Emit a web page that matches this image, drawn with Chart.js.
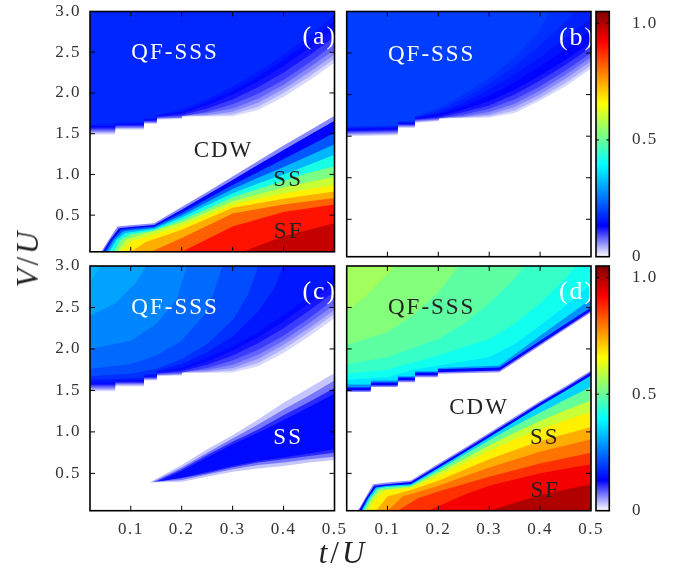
<!DOCTYPE html>
<html>
<head>
<meta charset="utf-8">
<script src="https://cdn.jsdelivr.net/npm/chart.js@4/dist/chart.umd.min.js"></script>
<style>
  html, body { margin: 0; padding: 0; background: #fff; }
  #fig { position: relative; width: 676px; height: 572px; overflow: hidden; background: #fff; }
  #fig canvas { position: absolute; }
  .title { position: absolute; font-family: 'Liberation Serif', serif; font-size: 31px; color: #222;
           letter-spacing: 3px; white-space: nowrap; }
</style>
</head>
<body>
<div id="fig">
  <canvas id="pa" width="350" height="262" style="left:0;top:0"></canvas>
  <canvas id="pb" width="260" height="262" style="left:340px;top:0"></canvas>
  <canvas id="pc" width="350" height="320" style="left:0;top:252px"></canvas>
  <canvas id="pd" width="276" height="320" style="left:340px;top:252px"></canvas>
  <canvas id="cb1" width="86" height="272" style="left:590px;top:0"></canvas>
  <canvas id="cb2" width="86" height="300" style="left:590px;top:252px"></canvas>
  <div class="title" style="left:28px;top:258px;transform:translate(-50%,-50%) rotate(-90deg)"><i>V</i>/<i>U</i></div>
  <div class="title" style="left:343px;top:553px;transform:translate(-50%,-50%)"><i>t</i>/<i>U</i></div>
</div>
<script>
// axis ticks
const tTicks = [0.1, 0.2, 0.3, 0.4, 0.5];
const vTicks = [0.5, 1.0, 1.5, 2.0, 2.5, 3.0];
const barTicks = [0, 0.5, 1.0];

// colour scale: white -> blue -> cyan -> yellow -> red -> dark red
const paletteStops = [0, 0.131, 0.394, 0.656, 0.919, 1.05];
const paletteRGB = [[255, 255, 255], [0, 0, 255], [0, 255, 255], [255, 255, 0], [255, 0, 0], [128, 0, 0]];

// contour lines (t/U, V/U) of the order parameter, one level per line

// (a) QF-SSS region
const aTopLevels = [0.02, 0.04, 0.06, 0.08, 0.1, 0.12, 0.14, 0.155, 0.17];
const aTopLines = [
  [[0.02,1.49],[0.069,1.49],[0.07,1.55],[0.125,1.55],[0.126,1.62],[0.15,1.62],[0.151,1.67],[0.2,1.68],[0.201,1.71],[0.3,1.715],[0.35,1.79],[0.4,1.95],[0.45,2.15],[0.5,2.37]],
  [[0.02,1.505],[0.069,1.505],[0.07,1.56],[0.125,1.56],[0.126,1.63],[0.15,1.63],[0.151,1.68],[0.2,1.69],[0.201,1.715],[0.25,1.72],[0.3,1.74],[0.35,1.83],[0.4,2.0],[0.45,2.2],[0.5,2.42]],
  [[0.02,1.52],[0.069,1.52],[0.07,1.57],[0.125,1.57],[0.126,1.635],[0.15,1.635],[0.151,1.685],[0.2,1.695],[0.201,1.72],[0.25,1.73],[0.3,1.77],[0.35,1.88],[0.4,2.05],[0.45,2.25],[0.5,2.47]],
  [[0.02,1.535],[0.069,1.535],[0.07,1.58],[0.125,1.58],[0.126,1.64],[0.15,1.64],[0.151,1.69],[0.2,1.7],[0.201,1.725],[0.25,1.75],[0.3,1.81],[0.35,1.93],[0.4,2.1],[0.45,2.31],[0.5,2.53]],
  [[0.02,1.55],[0.069,1.55],[0.07,1.59],[0.125,1.59],[0.126,1.65],[0.15,1.65],[0.151,1.7],[0.2,1.715],[0.25,1.77],[0.3,1.86],[0.35,1.99],[0.4,2.16],[0.45,2.37],[0.5,2.6]],
  [[0.02,1.565],[0.069,1.565],[0.07,1.6],[0.125,1.6],[0.126,1.655],[0.15,1.66],[0.151,1.705],[0.2,1.73],[0.25,1.81],[0.3,1.92],[0.35,2.07],[0.4,2.25],[0.45,2.46],[0.5,2.69]],
  [[0.02,1.58],[0.069,1.58],[0.07,1.61],[0.125,1.61],[0.126,1.665],[0.15,1.67],[0.151,1.715],[0.2,1.75],[0.25,1.85],[0.3,1.98],[0.35,2.14],[0.4,2.33],[0.45,2.55],[0.5,2.79]],
  [[0.02,1.595],[0.069,1.595],[0.07,1.62],[0.125,1.625],[0.126,1.675],[0.15,1.68],[0.151,1.72],[0.2,1.77],[0.25,1.89],[0.3,2.03],[0.35,2.2],[0.4,2.41],[0.45,2.63],[0.5,2.88]],
  [[0.02,1.61],[0.07,1.63],[0.125,1.64],[0.126,1.685],[0.15,1.69],[0.151,1.73],[0.2,1.8],[0.25,1.92],[0.3,2.08],[0.35,2.26],[0.4,2.47],[0.45,2.7],[0.5,2.96]]
];

// (a) SS / SF region
const aLowLevels = [0.06, 0.13, 0.22, 0.32, 0.42, 0.52, 0.6, 0.67, 0.74, 0.82, 0.9, 0.98];
const aLowLines = [
  [[0.042,0.05],[0.057,0.2],[0.074,0.36],[0.1,0.375],[0.146,0.4],[0.2,0.6],[0.25,0.785],[0.3,0.975],[0.35,1.165],[0.4,1.355],[0.45,1.535],[0.5,1.72]],
  [[0.045,0.05],[0.06,0.2],[0.077,0.34],[0.1,0.355],[0.146,0.38],[0.2,0.565],[0.25,0.75],[0.3,0.93],[0.35,1.12],[0.4,1.3],[0.45,1.48],[0.5,1.66]],
  [[0.049,0.05],[0.064,0.2],[0.081,0.32],[0.1,0.335],[0.146,0.36],[0.2,0.53],[0.25,0.7],[0.3,0.87],[0.35,1.03],[0.4,1.19],[0.45,1.35],[0.5,1.51]],
  [[0.053,0.05],[0.068,0.2],[0.085,0.3],[0.1,0.315],[0.146,0.345],[0.2,0.5],[0.25,0.66],[0.3,0.82],[0.35,0.96],[0.4,1.09],[0.45,1.23],[0.5,1.37]],
  [[0.058,0.05],[0.073,0.2],[0.09,0.28],[0.146,0.33],[0.2,0.47],[0.25,0.62],[0.3,0.77],[0.35,0.89],[0.4,1.0],[0.45,1.12],[0.5,1.24]],
  [[0.066,0.05],[0.08,0.2],[0.1,0.265],[0.146,0.31],[0.2,0.44],[0.25,0.58],[0.3,0.72],[0.35,0.82],[0.4,0.92],[0.45,1.02],[0.5,1.1]],
  [[0.073,0.05],[0.09,0.2],[0.12,0.26],[0.2,0.41],[0.3,0.67],[0.4,0.84],[0.5,0.97]],
  [[0.08,0.05],[0.1,0.18],[0.14,0.25],[0.2,0.37],[0.3,0.63],[0.4,0.77],[0.5,0.87]],
  [[0.1,0.05],[0.13,0.17],[0.2,0.32],[0.3,0.59],[0.4,0.7],[0.5,0.79]],
  [[0.14,0.05],[0.2,0.22],[0.3,0.52],[0.4,0.63],[0.5,0.71]],
  [[0.2,0.05],[0.3,0.36],[0.4,0.54],[0.5,0.63]],
  [[0.32,0.05],[0.4,0.24],[0.5,0.4]]
];

// (b) QF-SSS region
const bTopLevels = [0.02, 0.04, 0.06, 0.08, 0.1, 0.12, 0.135, 0.15, 0.165, 0.18, 0.195];
const bTopLines = [
  [[0.02,1.5],[0.12,1.51],[0.121,1.6],[0.153,1.6],[0.154,1.66],[0.2,1.68],[0.201,1.71],[0.3,1.725],[0.35,1.78],[0.4,1.93],[0.45,2.1],[0.5,2.31]],
  [[0.02,1.512],[0.12,1.522],[0.121,1.608],[0.153,1.608],[0.154,1.668],[0.2,1.688],[0.201,1.714],[0.3,1.74],[0.35,1.81],[0.4,1.96],[0.45,2.14],[0.5,2.35]],
  [[0.02,1.524],[0.12,1.534],[0.121,1.616],[0.153,1.616],[0.154,1.676],[0.2,1.696],[0.201,1.718],[0.25,1.73],[0.3,1.76],[0.35,1.85],[0.4,2.0],[0.45,2.19],[0.5,2.4]],
  [[0.02,1.536],[0.12,1.546],[0.121,1.624],[0.153,1.624],[0.154,1.684],[0.2,1.704],[0.201,1.722],[0.25,1.74],[0.3,1.79],[0.35,1.89],[0.4,2.05],[0.45,2.24],[0.5,2.45]],
  [[0.02,1.548],[0.12,1.558],[0.121,1.632],[0.153,1.632],[0.154,1.692],[0.2,1.712],[0.25,1.76],[0.3,1.83],[0.35,1.94],[0.4,2.1],[0.45,2.29],[0.5,2.5]],
  [[0.02,1.56],[0.12,1.57],[0.121,1.64],[0.153,1.64],[0.154,1.7],[0.2,1.725],[0.25,1.79],[0.3,1.87],[0.35,2.0],[0.4,2.17],[0.45,2.36],[0.5,2.57]],
  [[0.02,1.572],[0.12,1.582],[0.121,1.648],[0.153,1.648],[0.154,1.708],[0.2,1.74],[0.25,1.82],[0.3,1.92],[0.35,2.06],[0.4,2.23],[0.45,2.42],[0.5,2.63]],
  [[0.02,1.584],[0.12,1.594],[0.121,1.656],[0.153,1.656],[0.154,1.716],[0.2,1.76],[0.25,1.86],[0.3,1.99],[0.35,2.15],[0.4,2.34],[0.45,2.55],[0.5,2.78]],
  [[0.02,1.596],[0.12,1.606],[0.121,1.664],[0.153,1.664],[0.154,1.724],[0.2,1.78],[0.25,1.9],[0.3,2.06],[0.35,2.24],[0.4,2.45],[0.45,2.68],[0.5,2.92]],
  [[0.02,1.608],[0.12,1.618],[0.121,1.672],[0.153,1.672],[0.154,1.732],[0.2,1.81],[0.25,1.95],[0.3,2.13],[0.35,2.34],[0.4,2.6],[0.45,2.88],[0.47,3.0]],
  [[0.02,1.62],[0.12,1.63],[0.121,1.68],[0.153,1.69],[0.154,1.74],[0.2,1.84],[0.25,2.0],[0.3,2.2],[0.35,2.45],[0.4,2.78],[0.42,3.0]]
];

// (c) QF-SSS region
const cTopLevels = [0.02, 0.04, 0.06, 0.08, 0.1, 0.12, 0.14, 0.155, 0.18, 0.21, 0.24, 0.27, 0.3, 0.32];
const cTopLines = [
  [[0.02,1.49],[0.069,1.49],[0.07,1.55],[0.125,1.55],[0.126,1.62],[0.15,1.62],[0.151,1.67],[0.2,1.68],[0.201,1.71],[0.3,1.715],[0.35,1.79],[0.4,1.95],[0.45,2.15],[0.5,2.37]],
  [[0.02,1.505],[0.069,1.505],[0.07,1.56],[0.125,1.56],[0.126,1.63],[0.15,1.63],[0.151,1.68],[0.2,1.69],[0.201,1.715],[0.25,1.72],[0.3,1.74],[0.35,1.83],[0.4,2.0],[0.45,2.2],[0.5,2.42]],
  [[0.02,1.52],[0.069,1.52],[0.07,1.57],[0.125,1.57],[0.126,1.635],[0.15,1.635],[0.151,1.685],[0.2,1.695],[0.201,1.72],[0.25,1.73],[0.3,1.77],[0.35,1.88],[0.4,2.05],[0.45,2.25],[0.5,2.47]],
  [[0.02,1.535],[0.069,1.535],[0.07,1.58],[0.125,1.58],[0.126,1.64],[0.15,1.64],[0.151,1.69],[0.2,1.7],[0.201,1.725],[0.25,1.75],[0.3,1.81],[0.35,1.93],[0.4,2.1],[0.45,2.31],[0.5,2.53]],
  [[0.02,1.55],[0.069,1.55],[0.07,1.59],[0.125,1.59],[0.126,1.65],[0.15,1.65],[0.151,1.7],[0.2,1.715],[0.25,1.77],[0.3,1.86],[0.35,1.99],[0.4,2.16],[0.45,2.37],[0.5,2.6]],
  [[0.02,1.565],[0.069,1.565],[0.07,1.6],[0.125,1.6],[0.126,1.655],[0.15,1.66],[0.151,1.705],[0.2,1.73],[0.25,1.81],[0.3,1.92],[0.35,2.07],[0.4,2.25],[0.45,2.46],[0.5,2.69]],
  [[0.02,1.58],[0.069,1.58],[0.07,1.61],[0.125,1.61],[0.126,1.665],[0.15,1.67],[0.151,1.715],[0.2,1.75],[0.25,1.85],[0.3,1.98],[0.35,2.14],[0.4,2.33],[0.45,2.55],[0.5,2.79]],
  [[0.02,1.595],[0.069,1.595],[0.07,1.62],[0.125,1.625],[0.126,1.675],[0.15,1.68],[0.151,1.72],[0.2,1.77],[0.25,1.89],[0.3,2.03],[0.35,2.2],[0.4,2.41],[0.45,2.63],[0.5,2.88]],
  [[0.02,1.63],[0.125,1.65],[0.126,1.69],[0.15,1.7],[0.151,1.74],[0.2,1.82],[0.25,1.96],[0.3,2.15],[0.35,2.45],[0.38,2.72],[0.4,3.0]],
  [[0.02,1.67],[0.1,1.7],[0.15,1.76],[0.2,1.88],[0.25,2.06],[0.3,2.35],[0.33,2.65],[0.35,3.0]],
  [[0.02,1.76],[0.1,1.82],[0.15,1.92],[0.2,2.1],[0.25,2.45],[0.28,3.0]],
  [[0.02,2.0],[0.1,2.1],[0.15,2.3],[0.19,2.6],[0.21,3.0]],
  [[0.02,2.4],[0.07,2.55],[0.11,2.8],[0.13,3.0]],
  [[0.02,2.8],[0.04,3.0]]
];

// (c) SS wedge: upper and lower edge of each level
const cWedgeLevels = [0.03, 0.07, 0.11, 0.14];
const cWedgeUpper = [
  [[0.137,0.39],[0.2,0.6],[0.25,0.79],[0.3,0.96],[0.35,1.15],[0.4,1.35],[0.45,1.53],[0.5,1.71]],
  [[0.142,0.395],[0.2,0.57],[0.25,0.75],[0.3,0.92],[0.35,1.09],[0.4,1.27],[0.45,1.44],[0.5,1.62]],
  [[0.148,0.4],[0.2,0.55],[0.25,0.72],[0.3,0.88],[0.35,1.03],[0.4,1.2],[0.45,1.36],[0.5,1.53]],
  [[0.155,0.405],[0.2,0.53],[0.25,0.69],[0.3,0.85],[0.35,0.99],[0.4,1.14],[0.45,1.3],[0.5,1.46]]
];
const cWedgeLower = [
  [[0.137,0.39],[0.2,0.4],[0.25,0.46],[0.3,0.52],[0.35,0.56],[0.4,0.59],[0.45,0.63],[0.5,0.66]],
  [[0.142,0.395],[0.2,0.42],[0.25,0.485],[0.3,0.55],[0.35,0.6],[0.4,0.63],[0.45,0.67],[0.5,0.7]],
  [[0.148,0.4],[0.2,0.44],[0.25,0.5],[0.3,0.575],[0.35,0.63],[0.4,0.67],[0.45,0.71],[0.5,0.75]],
  [[0.155,0.405],[0.2,0.45],[0.25,0.52],[0.3,0.59],[0.35,0.65],[0.4,0.69],[0.45,0.74],[0.5,0.79]]
];

// (d) QF-SSS region
const dTopLevels = [0.06, 0.13, 0.28, 0.37, 0.41, 0.45, 0.49, 0.53, 0.56];
const dTopLines = [
  [[0.02,1.48],[0.067,1.48],[0.068,1.54],[0.12,1.54],[0.121,1.6],[0.153,1.6],[0.154,1.66],[0.198,1.66],[0.199,1.7],[0.32,1.72],[0.4,2.04],[0.45,2.24],[0.5,2.44]],
  [[0.02,1.5],[0.067,1.5],[0.068,1.56],[0.12,1.56],[0.121,1.62],[0.153,1.62],[0.154,1.68],[0.198,1.68],[0.199,1.72],[0.32,1.74],[0.4,2.06],[0.45,2.26],[0.5,2.46]],
  [[0.02,1.535],[0.067,1.535],[0.068,1.595],[0.12,1.595],[0.121,1.655],[0.153,1.655],[0.154,1.715],[0.198,1.715],[0.199,1.755],[0.32,1.775],[0.4,2.1],[0.45,2.3],[0.5,2.5]],
  [[0.02,1.57],[0.067,1.57],[0.068,1.62],[0.12,1.62],[0.121,1.67],[0.153,1.67],[0.154,1.73],[0.198,1.73],[0.199,1.77],[0.32,1.8],[0.4,2.16],[0.45,2.38],[0.5,2.6]],
  [[0.02,1.63],[0.1,1.66],[0.15,1.75],[0.2,1.8],[0.3,1.9],[0.35,2.06],[0.4,2.28],[0.45,2.52],[0.5,2.78]],
  [[0.02,1.7],[0.1,1.75],[0.2,1.92],[0.3,2.12],[0.35,2.3],[0.4,2.55],[0.45,2.85],[0.47,3.0]],
  [[0.02,1.82],[0.1,1.9],[0.2,2.12],[0.25,2.3],[0.3,2.55],[0.35,2.85],[0.37,3.0]],
  [[0.02,2.05],[0.1,2.2],[0.15,2.4],[0.2,2.68],[0.24,3.0]],
  [[0.02,2.45],[0.06,2.65],[0.1,2.9],[0.115,3.0]]
];

// (d) SS / SF region
const dLowLevels = [0.06, 0.13, 0.35, 0.5, 0.6, 0.67, 0.74, 0.8, 0.87, 0.93, 1.0];
const dLowLines = [
  [[0.042,0.05],[0.056,0.2],[0.072,0.37],[0.1,0.39],[0.146,0.415],[0.2,0.615],[0.25,0.8],[0.3,0.99],[0.35,1.18],[0.4,1.37],[0.45,1.55],[0.5,1.74]],
  [[0.044,0.05],[0.058,0.2],[0.074,0.35],[0.1,0.37],[0.146,0.395],[0.2,0.595],[0.25,0.78],[0.3,0.97],[0.35,1.16],[0.4,1.35],[0.45,1.53],[0.5,1.72]],
  [[0.049,0.05],[0.062,0.2],[0.077,0.33],[0.1,0.35],[0.146,0.37],[0.2,0.565],[0.25,0.75],[0.3,0.935],[0.35,1.125],[0.4,1.315],[0.45,1.495],[0.5,1.68]],
  [[0.052,0.05],[0.066,0.2],[0.08,0.315],[0.1,0.335],[0.146,0.355],[0.2,0.54],[0.25,0.72],[0.3,0.9],[0.35,1.07],[0.4,1.23],[0.45,1.39],[0.5,1.54]],
  [[0.056,0.05],[0.07,0.2],[0.085,0.3],[0.146,0.34],[0.2,0.51],[0.25,0.67],[0.3,0.84],[0.35,0.99],[0.4,1.13],[0.45,1.26],[0.5,1.38]],
  [[0.062,0.05],[0.077,0.2],[0.095,0.29],[0.146,0.325],[0.2,0.47],[0.25,0.62],[0.3,0.77],[0.35,0.91],[0.4,1.03],[0.45,1.14],[0.5,1.24]],
  [[0.078,0.05],[0.1,0.22],[0.146,0.3],[0.2,0.41],[0.3,0.67],[0.4,0.89],[0.5,1.06]],
  [[0.1,0.05],[0.13,0.22],[0.2,0.35],[0.3,0.57],[0.4,0.76],[0.5,0.91]],
  [[0.12,0.05],[0.16,0.2],[0.2,0.28],[0.3,0.46],[0.4,0.62],[0.5,0.75]],
  [[0.18,0.05],[0.25,0.24],[0.3,0.35],[0.4,0.5],[0.5,0.61]],
  [[0.3,0.05],[0.4,0.24],[0.5,0.37]]
];

// phase names: text, t, V (baseline), colour
const aTexts = [['QF-SSS', 0.187, 2.416, '#fff'], ['CDW', 0.282, 1.213, '#222'], ['SS', 0.409, 0.852, '#222'], ['SF', 0.41, 0.214, '#222']];
const bTexts = [['QF-SSS', 0.187, 2.4, '#fff']];
const cTexts = [['QF-SSS', 0.187, 2.42, '#fff'], ['SS', 0.409, 0.858, '#fff']];
const dTexts = [['QF-SSS', 0.187, 2.42, '#222'], ['CDW', 0.28, 1.219, '#222'], ['SS', 0.409, 0.858, '#222'], ['SF', 0.41, 0.216, '#222']];

Chart.defaults.font.family = "'Liberation Serif', serif";
Chart.defaults.font.size = 17;
Chart.defaults.color = '#333';

function colorAt(v) {
  let i = 1;
  while (i < paletteStops.length - 1 && v > paletteStops[i]) i++;
  const f = Math.min(1, Math.max(0, (v - paletteStops[i - 1]) / (paletteStops[i] - paletteStops[i - 1])));
  const c = paletteRGB[i - 1].map((a, k) => Math.round(a + (paletteRGB[i][k] - a) * f));
  return 'rgb(' + c.join(',') + ')';
}

function band(points, level, fill) {
  return {
    data: points,
    fill: fill,
    backgroundColor: colorAt(level),
    borderColor: 'rgba(0,0,0,0)',
    borderWidth: 1,
    pointRadius: 0,
    pointHoverRadius: 0,
    tension: 0
  };
}

function bands(levels, lines, fill) {
  return levels.map((lv, i) => band(lines[i], lv, fill));
}

// fill between upper and lower edge of each wedge level
function wedge(levels, upper, lower) {
  const out = [];
  levels.forEach((lv, i) => {
    out.push(band(upper[i], lv, '+1'));
    out.push(band(lower[i], lv, false));
  });
  return out;
}

function frame(ctx, a) {
  ctx.strokeStyle = '#000';
  ctx.lineWidth = 1.6;
  ctx.strokeRect(a.left, a.top, a.right - a.left, a.bottom - a.top);
}

// tick marks are drawn by hand (inward), so the label gap comes from tickLength
// rather than ticks.padding, which would also eat into the plot area
const hiddenGrid = gap => ({ display: false, drawTicks: true, tickLength: gap });

function panel(id, sets, texts, tag, pad, showT, showV) {
  sets.forEach((d, i) => { d.order = -i; });
  const decor = {
    id: 'decor',
    beforeDraw(chart) { chart.ctx.letterSpacing = '1.5px'; },
    afterDatasetsDraw(chart) {
      const {ctx, chartArea: a, scales: {x, y}} = chart;
      ctx.save();
      ctx.letterSpacing = '2px';
      ctx.beginPath();
      ctx.rect(a.left, a.top, a.right - a.left, a.bottom - a.top);
      ctx.clip();
      ctx.textAlign = 'center';
      ctx.textBaseline = 'alphabetic';
      ctx.font = "23px 'Liberation Serif'";
      texts.forEach(([s, t, v, col]) => {
        ctx.fillStyle = col;
        ctx.fillText(s, x.getPixelForValue(t), y.getPixelForValue(v));
      });
      ctx.textAlign = 'left';
      ctx.font = "26px 'Liberation Serif'";
      ctx.fillStyle = '#fff';
      ctx.fillText(tag, x.getPixelForValue(0.437), y.getPixelForValue(2.6));
      ctx.restore();
    },
    afterDraw(chart) {
      const {ctx, chartArea: a, scales: {x, y}} = chart;
      ctx.save();
      frame(ctx, a);
      ctx.lineWidth = 1;
      ctx.beginPath();
      tTicks.slice(0, -1).forEach(t => {
        const px = x.getPixelForValue(t);
        ctx.moveTo(px, a.bottom); ctx.lineTo(px, a.bottom - 5);
        ctx.moveTo(px, a.top); ctx.lineTo(px, a.top + 5);
      });
      vTicks.slice(0, -1).forEach(v => {
        const py = y.getPixelForValue(v);
        ctx.moveTo(a.left, py); ctx.lineTo(a.left + 5, py);
        ctx.moveTo(a.right, py); ctx.lineTo(a.right - 5, py);
      });
      ctx.stroke();
      ctx.restore();
      ctx.letterSpacing = '0px';
    }
  };
  return new Chart(document.getElementById(id), {
    type: 'line',
    data: { datasets: sets },
    options: {
      responsive: false,
      animation: false,
      devicePixelRatio: 1,
      events: [],
      layout: { padding: pad },
      plugins: { legend: { display: false }, tooltip: { enabled: false } },
      scales: {
        x: {
          type: 'linear', min: 0.02, max: 0.5, display: showT,
          grid: hiddenGrid(9), border: { display: false },
          afterBuildTicks: s => { s.ticks = tTicks.map(v => ({ value: v })); },
          afterFit: showT ? s => { s.height = 61.3; } : undefined,
          ticks: { padding: 0, maxRotation: 0, autoSkip: false, callback: v => v.toFixed(1) }
        },
        y: {
          type: 'linear', min: 0.05, max: 3.0, display: showV,
          grid: hiddenGrid(9), border: { display: false },
          afterBuildTicks: s => { s.ticks = vTicks.map(v => ({ value: v })); },
          afterFit: showV ? s => { s.width = 90; } : undefined,
          ticks: { padding: 0, autoSkip: false, callback: v => v.toFixed(1) }
        }
      }
    },
    plugins: [decor]
  });
}

function colorBar(id, pad) {
  const decor = {
    id: 'barDecor',
    beforeDraw(chart) { chart.ctx.letterSpacing = '1.5px'; },
    afterDraw(chart) {
      const {ctx, chartArea: a, scales: {y}} = chart;
      ctx.save();
      frame(ctx, a);
      ctx.lineWidth = 1;
      ctx.beginPath();
      barTicks.slice(1).forEach(v => {
        const py = y.getPixelForValue(v);
        ctx.moveTo(a.left, py); ctx.lineTo(a.left + 3, py);
        ctx.moveTo(a.right, py); ctx.lineTo(a.right - 3, py);
      });
      ctx.stroke();
      ctx.restore();
      ctx.letterSpacing = '0px';
    }
  };
  return new Chart(document.getElementById(id), {
    type: 'bar',
    data: {
      labels: [''],
      datasets: [{
        data: [[paletteStops[0], paletteStops[paletteStops.length - 1]]],
        barPercentage: 1,
        categoryPercentage: 1,
        borderWidth: 0,
        backgroundColor(c) {
          const chart = c.chart;
          if (!chart.chartArea) return 'transparent';
          const y = chart.scales.y;
          const top = paletteStops[paletteStops.length - 1];
          const g = chart.ctx.createLinearGradient(0, y.getPixelForValue(0), 0, y.getPixelForValue(top));
          paletteStops.forEach(s => g.addColorStop(s / top, colorAt(s)));
          return g;
        }
      }]
    },
    options: {
      responsive: false,
      animation: false,
      devicePixelRatio: 1,
      events: [],
      layout: { padding: pad },
      plugins: { legend: { display: false }, tooltip: { enabled: false } },
      scales: {
        x: { display: false },
        y: {
          position: 'right', min: 0, max: 1.05,
          grid: hiddenGrid(22.7), border: { display: false },
          afterBuildTicks: s => { s.ticks = barTicks.map(v => ({ value: v })); },
          afterFit: s => { s.width = 66.7; },
          ticks: { padding: 0, callback: v => (v === 0 ? '0' : v.toFixed(1)) }
        }
      }
    },
    plugins: [decor]
  });
}

panel('pa', [...bands(aTopLevels, aTopLines, 'end'), ...bands(aLowLevels, aLowLines, 'start')],
  aTexts, '(a)', { left: 0, top: 11.5, right: 15.5, bottom: 5.3 }, false, true);
panel('pb', bands(bTopLevels, bTopLines, 'end'),
  bTexts, '(b)', { left: 6.7, top: 11.5, right: 9, bottom: 5.3 }, false, false);
panel('pc', [...bands(cTopLevels, cTopLines, 'end'), ...wedge(cWedgeLevels, cWedgeUpper, cWedgeLower)],
  cTexts, '(c)', { left: 0, top: 14, right: 15.5, bottom: 0 }, true, true);
panel('pd', [...bands(dTopLevels, dTopLines, 'end'), ...bands(dLowLevels, dLowLines, 'start')],
  dTexts, '(d)', { left: 6.7, top: 14, right: 25, bottom: 0 }, true, false);

colorBar('cb1', { left: 6, top: 11.5, right: 0, bottom: 15.3 });
colorBar('cb2', { left: 6, top: 14, right: 0, bottom: 41.3 });
</script>
</body>
</html>
